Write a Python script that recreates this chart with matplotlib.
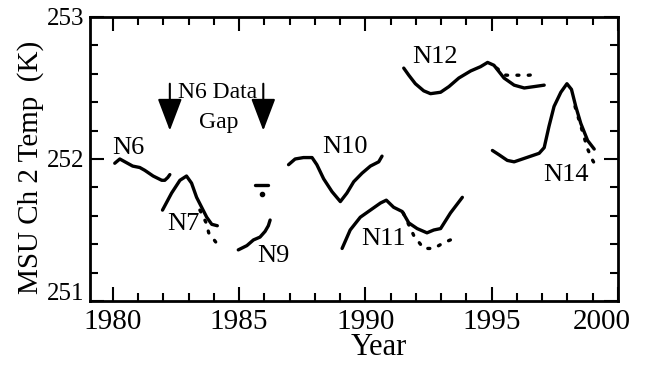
import numpy as np
import matplotlib
matplotlib.use('Agg')
import matplotlib.pyplot as plt
from matplotlib.ticker import MultipleLocator
from matplotlib.transforms import ScaledTranslation

plt.rcParams['font.family'] = 'Liberation Serif'

# solid segments (satellite records)
n6_year = [1980.08, 1980.28, 1980.79, 1981.07, 1981.27, 1981.6, 1981.94, 1982.06, 1982.18, 1982.26]
n6_temp = [251.97, 252.0, 251.95, 251.94, 251.92, 251.88, 251.85, 251.85, 251.87, 251.89]

n7_year = [1981.97, 1982.33, 1982.66, 1982.92, 1983.12, 1983.32, 1983.52, 1983.72, 1983.92, 1984.14]
n7_temp = [251.64, 251.76, 251.85, 251.88, 251.83, 251.73, 251.66, 251.59, 251.54, 251.53]
n7_dot_year = [1983.45, 1983.7, 1983.8, 1984.1]
n7_dot_temp = [251.64, 251.55, 251.48, 251.41]

gap_year = [1985.63, 1986.15]
gap_temp = [251.82, 251.82]
gap_pt_year = [1985.9]
gap_pt_temp = [251.75]

n9_year = [1984.97, 1985.31, 1985.57, 1985.83, 1986.03, 1986.16, 1986.23]
n9_temp = [251.36, 251.39, 251.43, 251.45, 251.49, 251.53, 251.57]

n10_year = [1986.96, 1987.22, 1987.55, 1987.89, 1988.08, 1988.35, 1988.68, 1989.01,
            1989.27, 1989.54, 1989.87, 1990.2, 1990.53, 1990.66]
n10_temp = [251.96, 252.0, 252.01, 252.01, 251.96, 251.86, 251.77, 251.70,
            251.76, 251.84, 251.90, 251.95, 251.98, 252.02]

n11_year = [1989.08, 1989.40, 1989.80, 1990.2, 1990.6, 1990.83, 1991.12, 1991.46, 1991.72,
            1992.05, 1992.44, 1992.71, 1992.98, 1993.37, 1993.84]
n11_temp = [251.37, 251.50, 251.59, 251.64, 251.69, 251.71, 251.66, 251.63, 251.55,
            251.51, 251.48, 251.50, 251.51, 251.62, 251.73]
n11_dot_year = [1991.5, 1991.92, 1992.31, 1992.71, 1993.1, 1993.5]
n11_dot_temp = [251.62, 251.46, 251.37, 251.37, 251.41, 251.44]

n12_year = [1991.52, 1991.72, 1991.98, 1992.31, 1992.58, 1992.98, 1993.31, 1993.70, 1994.17,
            1994.56, 1994.84, 1995.09, 1995.49, 1995.89, 1996.29, 1996.69, 1997.08]
n12_temp = [252.64, 252.59, 252.53, 252.48, 252.46, 252.47, 252.51, 252.57, 252.62,
            252.65, 252.68, 252.66, 252.57, 252.52, 252.50, 252.51, 252.52]
n12_dot_year = [1995.2, 1995.56, 1996.02, 1996.48, 1996.88]
n12_dot_temp = [252.64, 252.59, 252.59, 252.59, 252.60]

n14_year = [1995.03, 1995.29, 1995.62, 1995.89, 1996.22, 1996.55, 1996.88, 1997.08, 1997.27,
            1997.47, 1997.74, 1997.98, 1998.16, 1998.33, 1998.53, 1998.80, 1999.06]
n14_temp = [252.06, 252.03, 251.99, 251.98, 252.0, 252.02, 252.04, 252.08, 252.23,
            252.37, 252.47, 252.53, 252.49, 252.37, 252.25, 252.13, 252.07]
n14_dot_year = [1998.3, 1998.55, 1998.8, 1999.0, 1999.13]
n14_dot_temp = [252.37, 252.22, 252.07, 251.99, 251.95]

labels = ['N6', 'N7', 'N9', 'N10', 'N11', 'N12', 'N14']
label_year = [1980.63, 1982.78, 1986.35, 1989.19, 1990.71, 1992.76, 1997.94]
label_temp = [252.08, 251.54, 251.32, 252.085, 251.44, 252.72, 251.89]

arrow_year = [1982.26, 1985.96]
arrow_top, arrow_tip = 252.53, 252.2

fig = plt.figure(figsize=(6.56, 3.66), dpi=100)
ax = fig.add_axes([0.1372, 0.1776, 0.8048, 0.776])

solid = [(n6_year, n6_temp), (n7_year, n7_temp), (n9_year, n9_temp), (n10_year, n10_temp),
         (n11_year, n11_temp), (n12_year, n12_temp), (n14_year, n14_temp), (gap_year, gap_temp)]
for x, y in solid:
    ax.plot(x, y, color='black', lw=2.4, solid_capstyle='round')

dotted = [(n7_dot_year, n7_dot_temp), (n11_dot_year, n11_dot_temp),
          (n12_dot_year, n12_dot_temp), (n14_dot_year, n14_dot_temp)]
for x, y in dotted:
    ax.plot(x, y, color='black', lw=2.4, linestyle=(0, (0.6, 2.8)), dash_capstyle='round')

ax.plot(gap_pt_year, gap_pt_temp, 'o', color='black', ms=3)

for name, x, y in zip(labels, label_year, label_temp):
    ax.text(x, y, name, fontsize=19, ha='center', va='center')

for x in arrow_year:
    ax.annotate('', xy=(x, arrow_tip), xytext=(x, arrow_top),
                arrowprops=dict(arrowstyle='-|>,head_length=1.0,head_width=0.38',
                                mutation_scale=20, color='black', lw=1.5,
                                shrinkA=0, shrinkB=0))
ax.text(1984.15, 252.47, 'N6 Data', fontsize=17, ha='center', va='center')
ax.text(1984.2, 252.26, 'Gap', fontsize=17, ha='center', va='center')

ax.set_xlim(1979.1, 2000.0)
ax.set_ylim(251, 253)
ax.set_xticks([1980, 1985, 1990, 1995, 2000])
ax.set_yticks([251, 252, 253])
ax.xaxis.set_minor_locator(MultipleLocator(1))
ax.yaxis.set_minor_locator(MultipleLocator(0.2))
ax.tick_params(which='both', direction='in', top=True, right=True, width=1.5)
ax.tick_params(which='major', length=10)
ax.tick_params(which='minor', length=6)
ax.tick_params(axis='x', labelsize=21, pad=6)
ax.tick_params(axis='y', labelsize=18, pad=4)
for s in ax.spines.values():
    s.set_linewidth(2.0)

# nudge end labels like the original
xl = ax.get_xticklabels()
xl[-1].set_transform(xl[-1].get_transform() + ScaledTranslation(-16 / 100, 0, fig.dpi_scale_trans))
yl = ax.get_yticklabels()
yl[0].set_transform(yl[0].get_transform() + ScaledTranslation(0, 9 / 100, fig.dpi_scale_trans))

ax.set_xlabel('Year', fontsize=22, labelpad=-2, x=0.547)
ax.set_ylabel('MSU Ch 2 Temp  (K)', fontsize=21, labelpad=2, y=0.47)

fig.savefig('out.png', dpi=100)
